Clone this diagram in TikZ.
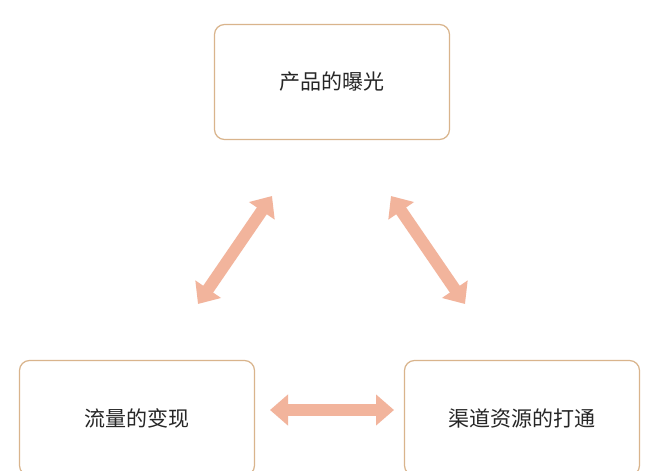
\documentclass[tikz,border=0pt]{standalone}
\usepackage{fontspec}
\newfontfamily\cjk{Noto Sans CJK SC}
\usetikzlibrary{arrows.meta}
\definecolor{bord}{HTML}{D9B48C}
\definecolor{arr}{HTML}{F2B49C}
\tikzset{
  box/.style={draw=bord,line width=1.2pt,rounded corners=10pt,fill=white,minimum width=235pt,minimum height=115pt,font=\cjk\fontsize{21}{24}\selectfont,text=black!85},
  fat/.style={draw=arr,line width=12pt,{Triangle[length=18pt,width=30pt]}-{Triangle[length=18pt,width=30pt]}}
}
\begin{document}
\begin{tikzpicture}[x=1pt,y=-1pt]
\useasboundingbox (0,0) rectangle (659,471);
\clip (0,0) rectangle (659,471);
\fill[white] (0,0) rectangle (659,471);
\node[box] (top) at (332,82) {产品的曝光};
\node[box] (bl) at (137,418) {流量的变现};
\node[box] (br) at (522,418) {渠道资源的打通};
\coordinate (a1) at (272,196); \coordinate (a2) at (198,304);
\coordinate (b1) at (391,196); \coordinate (b2) at (465,304);
\coordinate (c1) at (270,410); \coordinate (c2) at (394,410);
\draw[fat] (a1) -- (a2);
\draw[fat] (b1) -- (b2);
\draw[fat] (c1) -- (c2);
\end{tikzpicture}
\end{document}
